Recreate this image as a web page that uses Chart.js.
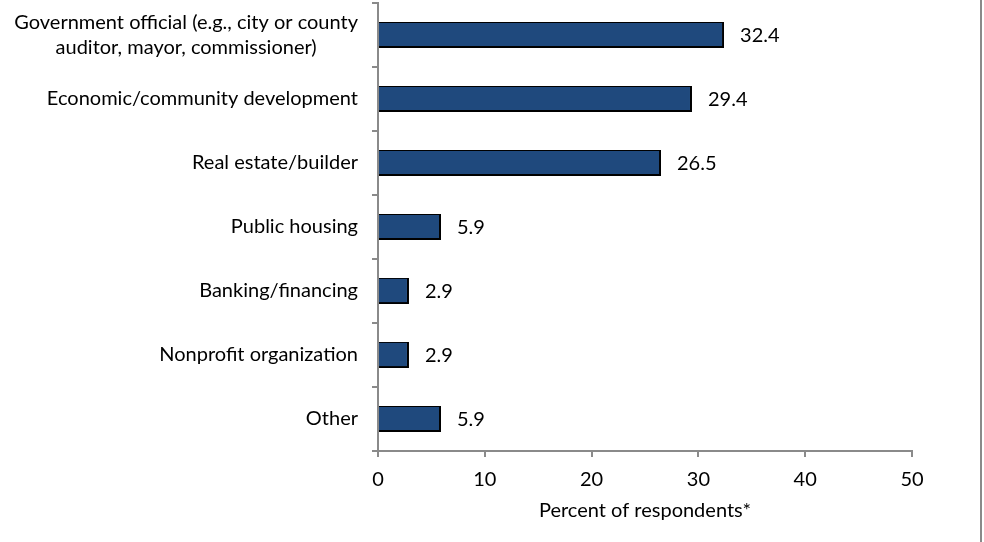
<!DOCTYPE html>
<html>
<head>
<meta charset="utf-8">
<script src="https://cdn.jsdelivr.net/npm/chart.js@4/dist/chart.umd.min.js"></script>
<style>
  html, body { margin: 0; padding: 0; background: #fff; }
  #wrap { width: 984px; height: 542px; position: relative; }
</style>
</head>
<body>
<div id="wrap"><canvas id="c" width="984" height="542"></canvas></div>
<script>
// Respondent categories (top to bottom) and their shares
const categories = [
  ["Government official (e.g., city or county", "auditor, mayor, commissioner)"],
  ["Economic/community development"],
  ["Real estate/builder"],
  ["Public housing"],
  ["Banking/financing"],
  ["Nonprofit organization"],
  ["Other"]
];
const percentValues = [32.4, 29.4, 26.5, 5.9, 2.9, 2.9, 5.9];
const axisTitle = "Percent of respondents*";

const FONT = "Lato, 'Open Sans', sans-serif";
const FONT_SIZE = 20;
const AXIS_GREY = "#8a8a8a";

// Draws category labels with lines centred on each other, right-aligned as a block
const categoryLabels = {
  id: "categoryLabels",
  afterDraw(chart) {
    const { ctx, scales } = chart;
    const y = scales.y;
    const rightEdge = y.right - 20;
    const lineH = 25;
    ctx.save();
    ctx.font = FONT_SIZE + "px " + FONT;
    ctx.fillStyle = "#000";
    ctx.textBaseline = "middle";
    ctx.textAlign = "center";
    categories.forEach((lines, i) => {
      const cy = y.getPixelForValue(i);
      const w = Math.max(...lines.map(l => ctx.measureText(l).width));
      const cx = rightEdge - w / 2;
      const top = cy - (lines.length - 1) * lineH / 2;
      lines.forEach((l, k) => ctx.fillText(l, cx, top + k * lineH));
    });
    ctx.restore();
  }
};

// Value labels to the right of each bar
const valueLabels = {
  id: "valueLabels",
  afterDatasetsDraw(chart) {
    const { ctx } = chart;
    const meta = chart.getDatasetMeta(0);
    ctx.save();
    ctx.font = FONT_SIZE + "px " + FONT;
    ctx.fillStyle = "#000";
    ctx.textBaseline = "middle";
    ctx.textAlign = "left";
    meta.data.forEach((bar, i) => {
      ctx.fillText(percentValues[i].toFixed(1), bar.x + 16, bar.y + 1);
    });
    ctx.restore();
  }
};

// Thin grey rule along the right edge of the figure
const edgeRule = {
  id: "edgeRule",
  afterDraw(chart) {
    const { ctx, width, height } = chart;
    ctx.save();
    ctx.strokeStyle = AXIS_GREY;
    ctx.lineWidth = 2;
    ctx.beginPath();
    ctx.moveTo(width - 3, 0);
    ctx.lineTo(width - 3, height);
    ctx.stroke();
    ctx.restore();
  }
};

new Chart(document.getElementById("c"), {
  type: "bar",
  data: {
    labels: categories.map(l => l.join(" ")),
    datasets: [{
      data: percentValues,
      backgroundColor: "#1f497d",
      borderColor: "#000",
      borderWidth: { top: 1, bottom: 2, right: 2, left: 0 },
      borderSkipped: false,
      barPercentage: 0.41,
      categoryPercentage: 1
    }]
  },
  options: {
    indexAxis: "y",
    responsive: false,
    animation: false,
    events: [],
    layout: { padding: { left: 0, right: 72, top: 3, bottom: 0 } },
    plugins: {
      legend: { display: false },
      tooltip: { enabled: false }
    },
    scales: {
      x: {
        min: 0,
        max: 50,
        ticks: {
          stepSize: 10,
          color: "#000",
          font: { family: FONT, size: FONT_SIZE },
          padding: 11
        },
        grid: {
          drawOnChartArea: false,
          drawTicks: true,
          tickLength: 6,
          color: AXIS_GREY,
          lineWidth: 2
        },
        border: { color: AXIS_GREY, width: 2 },
        title: {
          display: true,
          text: axisTitle,
          color: "#000",
          font: { family: FONT, size: FONT_SIZE },
          padding: { top: 6, bottom: 19 }
        },
        afterFit(scale) { scale.height = 91; }
      },
      y: {
        ticks: { display: false },
        grid: {
          offset: true,
          drawOnChartArea: false,
          drawTicks: true,
          tickLength: 6,
          color: AXIS_GREY,
          lineWidth: 2
        },
        border: { color: AXIS_GREY, width: 2 },
        afterFit(scale) { scale.width = 378; }
      }
    }
  },
  plugins: [categoryLabels, valueLabels, edgeRule]
});
</script>
</body>
</html>
